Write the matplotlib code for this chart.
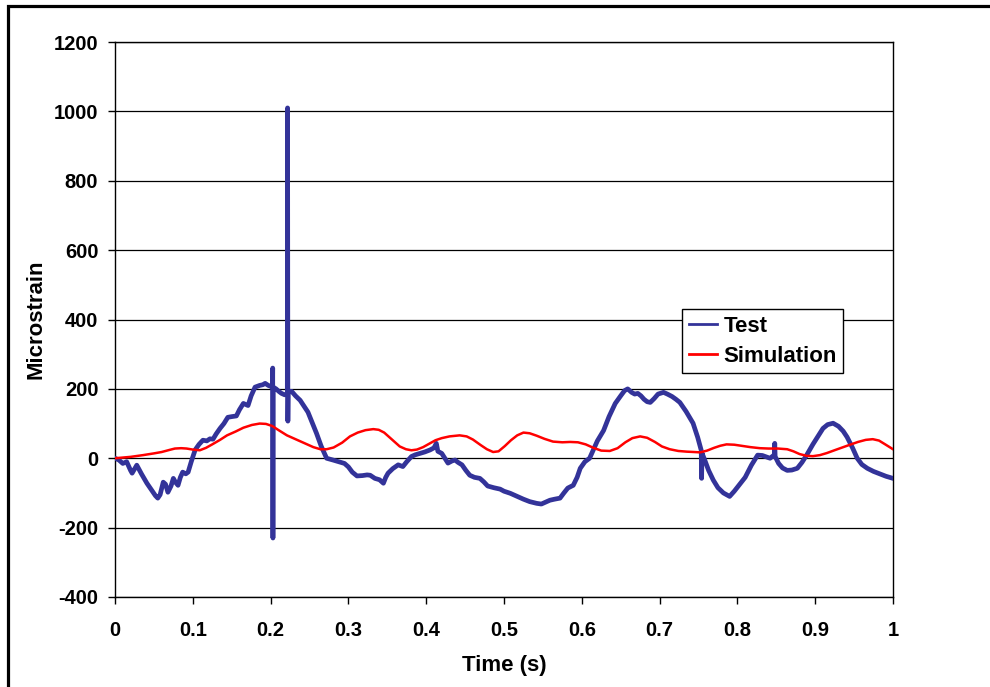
import matplotlib
matplotlib.use('Agg')
import matplotlib.pyplot as plt
from matplotlib.patches import Rectangle

plt.rcParams['font.family'] = ['Liberation Sans', 'DejaVu Sans']
plt.rcParams['font.weight'] = 'bold'
plt.rcParams['axes.unicode_minus'] = False

# Test strain gauge record (including the spikes)
test_t = [0.000, 0.005, 0.010, 0.015, 0.020, 0.022, 0.028, 0.034, 0.041, 0.048,
          0.052, 0.055, 0.058, 0.062, 0.065, 0.068, 0.072, 0.075, 0.078, 0.081,
          0.084, 0.087, 0.091, 0.094, 0.098, 0.103, 0.108, 0.113, 0.118, 0.122,
          0.126, 0.130, 0.135, 0.140, 0.145, 0.150, 0.156, 0.160, 0.165, 0.171,
          0.175, 0.180, 0.186, 0.190, 0.193, 0.197, 0.2025, 0.2027, 0.2030, 0.2033,
          0.207, 0.211, 0.214, 0.218, 0.2215, 0.2218, 0.2222, 0.2225, 0.227, 0.232,
          0.238, 0.243, 0.248, 0.254, 0.259, 0.265, 0.272, 0.280, 0.289, 0.295,
          0.300, 0.305, 0.311, 0.318, 0.324, 0.328, 0.334, 0.340, 0.345, 0.348,
          0.351, 0.357, 0.364, 0.370, 0.375, 0.381, 0.386, 0.392, 0.398, 0.405,
          0.410, 0.413, 0.415, 0.420, 0.424, 0.428, 0.433, 0.437, 0.441, 0.446,
          0.451, 0.456, 0.462, 0.469, 0.474, 0.479, 0.487, 0.495, 0.500, 0.508,
          0.515, 0.525, 0.533, 0.542, 0.548, 0.554, 0.559, 0.565, 0.572, 0.577,
          0.582, 0.589, 0.594, 0.598, 0.604, 0.610, 0.615, 0.620, 0.628, 0.635,
          0.643, 0.650, 0.655, 0.659, 0.664, 0.668, 0.672, 0.676, 0.680, 0.684,
          0.688, 0.693, 0.698, 0.705, 0.710, 0.716, 0.721, 0.726, 0.734, 0.743,
          0.749, 0.7535, 0.754, 0.7545, 0.758, 0.763, 0.769, 0.775, 0.782, 0.790,
          0.796, 0.803, 0.810, 0.818, 0.826, 0.832, 0.838, 0.842, 0.8475, 0.848,
          0.8485, 0.853, 0.858, 0.864, 0.870, 0.877, 0.883, 0.889, 0.897, 0.904,
          0.910, 0.916, 0.923, 0.930, 0.936, 0.941, 0.948, 0.954, 0.960, 0.967,
          0.975, 0.983, 0.991, 1.000]
test_v = [0, -5, -15, -10, -35, -43, -20, -45, -72, -95,
          -108, -115, -105, -69, -75, -98, -80, -58, -70, -78,
          -55, -40, -45, -40, -10, 24, 40, 52, 50, 56,
          55, 70, 86, 100, 118, 120, 122, 140, 158, 152,
          180, 205, 210, 212, 216, 210, 205, 260, -230, 205,
          200, 192, 187, 183, 185, 1010, 107, 190, 193, 180,
          167, 150, 133, 100, 72, 35, 0, -5, -11, -15,
          -25, -40, -51, -50, -48, -49, -58, -62, -72, -55,
          -43, -30, -19, -24, -10, 5, 10, 14, 18, 24,
          30, 43, 20, 14, 0, -14, -8, -5, -12, -19,
          -35, -49, -55, -58, -68, -80, -85, -89, -95, -101,
          -108, -118, -125, -130, -132, -126, -121, -118, -115, -100,
          -86, -78, -55, -29, -10, 0, 25, 50, 80, 120,
          158, 180, 195, 200, 190, 185, 187, 180, 170, 163,
          161, 172, 185, 190, 185, 178, 170, 161, 135, 101,
          60, 23, -58, 15, -5, -35, -63, -85, -100, -110,
          -95, -75, -55, -20, 9, 8, 3, 0, 10, 43,
          5, -15, -28, -35, -34, -29, -12, 9, 40, 65,
          86, 97, 101, 92, 78, 61, 30, 0, -18, -29,
          -38, -45, -52, -58]

# Simulation curve
sim_t = [0.000, 0.020, 0.036, 0.050, 0.060, 0.070, 0.077, 0.085, 0.092, 0.100,
         0.109, 0.117, 0.125, 0.135, 0.144, 0.155, 0.165, 0.176, 0.186, 0.194,
         0.202, 0.211, 0.221, 0.233, 0.245, 0.255, 0.264, 0.272, 0.281, 0.292,
         0.302, 0.312, 0.322, 0.332, 0.339, 0.346, 0.356, 0.366, 0.374, 0.381,
         0.388, 0.396, 0.404, 0.412, 0.420, 0.430, 0.443, 0.452, 0.460, 0.470,
         0.478, 0.486, 0.493, 0.501, 0.509, 0.517, 0.525, 0.533, 0.542, 0.552,
         0.563, 0.575, 0.585, 0.595, 0.605, 0.615, 0.625, 0.636, 0.646, 0.656,
         0.665, 0.675, 0.684, 0.694, 0.703, 0.713, 0.724, 0.735, 0.744, 0.752,
         0.761, 0.770, 0.778, 0.786, 0.796, 0.805, 0.817, 0.829, 0.840, 0.852,
         0.864, 0.872, 0.880, 0.889, 0.897, 0.906, 0.915, 0.926, 0.936, 0.946,
         0.955, 0.965, 0.974, 0.982, 0.990, 1.000]
sim_v = [0, 4, 9, 14, 18, 24, 28, 29, 28, 25,
         23, 30, 40, 53, 66, 77, 88, 96, 100, 99,
         93, 80, 66, 54, 42, 32, 26, 26, 31, 45,
         63, 74, 81, 84, 82, 74, 54, 34, 26, 23,
         25, 32, 42, 52, 58, 63, 66, 63, 54, 38,
         26, 18, 20, 35, 52, 66, 74, 72, 65, 56,
         48, 46, 47, 46, 40, 30, 22, 21, 29, 46,
         58, 63, 59, 47, 34, 26, 21, 19, 18, 17,
         22, 30, 36, 40, 39, 36, 32, 29, 28, 28,
         26, 20, 12, 7, 6, 9, 15, 24, 32, 40,
         47, 53, 55, 51, 40, 26]

x_ticks = [0, 0.1, 0.2, 0.3, 0.4, 0.5, 0.6, 0.7, 0.8, 0.9, 1]
x_labels = ['0', '0.1', '0.2', '0.3', '0.4', '0.5', '0.6', '0.7', '0.8', '0.9', '1']
y_ticks = list(range(-400, 1201, 200))

fig = plt.figure(figsize=(9.9, 6.87), dpi=100)
ax = fig.add_axes([115 / 990, 90 / 687, 778 / 990, 555 / 687])

ax.plot(test_t, test_v, color='#333399', lw=3.4, label='Test',
        solid_joinstyle='round', zorder=3)
ax.plot(sim_t, sim_v, color='#ff0000', lw=1.8, label='Simulation', zorder=4)

ax.set_xlim(0, 1)
ax.set_ylim(-400, 1200)
ax.set_xticks(x_ticks)
ax.set_xticklabels(x_labels)
ax.set_yticks(y_ticks)
ax.grid(axis='y', color='black', lw=0.9)
ax.set_axisbelow(True)
for s in ax.spines.values():
    s.set_linewidth(1.0)
ax.tick_params(direction='out', length=5, width=1, labelsize=14.5)
ax.tick_params(axis='x', pad=12)
ax.tick_params(axis='y', pad=7)

ax.set_xlabel('Time (s)', fontsize=16, fontweight='bold', labelpad=11)
ax.set_ylabel('Microstrain', fontsize=16, fontweight='bold', labelpad=5)

leg = ax.legend(loc='upper left', bbox_to_anchor=(0.729, 0.519), fontsize=16,
                frameon=True, fancybox=False, framealpha=1, edgecolor='black',
                handlelength=1.25, handletextpad=0.3, borderpad=0.3,
                labelspacing=0.4, borderaxespad=0)
leg.get_frame().set_linewidth(1.0)
for line in leg.get_lines():
    line.set_linewidth(2)

# outer chart border (runs off the right and bottom edges)
fig.add_artist(Rectangle((8 / 990, -0.1), 1.2, 0.1 + 1 - 6.5 / 687,
                         transform=fig.transFigure, fill=False,
                         edgecolor='black', lw=2.3))

fig.savefig('out.png', dpi=100)
